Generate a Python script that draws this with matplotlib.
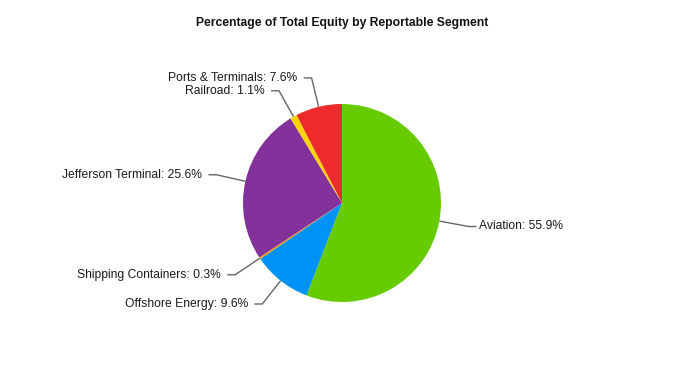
import numpy as np
import matplotlib
matplotlib.use("Agg")
import matplotlib.pyplot as plt

# veri
segmentler = ["Aviation", "Offshore Energy", "Shipping Containers",
              "Jefferson Terminal", "Railroad", "Ports & Terminals"]
yuzdeler = [55.9, 9.6, 0.3, 25.6, 1.1, 7.6]
renkler = ["#66CC00", "#0093F7", "#FF9900", "#82329A", "#FFD200", "#EE2A2A"]

plt.rcParams["font.family"] = ["Liberation Sans", "DejaVu Sans"]

fig = plt.figure(figsize=(6.84, 3.81), dpi=100)
ax = fig.add_axes([0, 0, 1, 1])

r_px = 99.0
cx, cy = 342, 203  # pasta merkezi (piksel)

wedges, _ = ax.pie(yuzdeler, colors=renkler, startangle=90, counterclock=False,
                   radius=1.0, wedgeprops=dict(linewidth=0))
ax.set_xlim(-cx / r_px, (684 - cx) / r_px)
ax.set_ylim(-(381 - cy) / r_px, cy / r_px)
ax.set_aspect("auto")
ax.axis("off")

# etiketler ve baglanti cizgileri
for w, isim, y in zip(wedges, segmentler, yuzdeler):
    aci = np.deg2rad((w.theta1 + w.theta2) / 2)
    x0, y0 = np.cos(aci), np.sin(aci)
    xe, ye = 1.3 * x0, 1.3 * y0
    yon = 1 if x0 >= 0 else -1
    xh = xe + yon * 0.08
    bosluk = 0.03 if yon > 0 else 0.065
    ax.plot([x0, xe, xh], [y0, ye, ye], color="#666666", lw=1, solid_capstyle="butt")
    ax.text(xh + yon * bosluk, ye, "{}: {}%".format(isim, y), ha="left" if yon > 0 else "right",
            va="center", fontsize=8.7, color="#1a1a1a")

fig.text(0.5, 1 - 23 / 381, "Percentage of Total Equity by Reportable Segment",
         ha="center", va="center", fontsize=8.7, fontweight="bold", color="#111111")

fig.savefig("out.png", dpi=100)
